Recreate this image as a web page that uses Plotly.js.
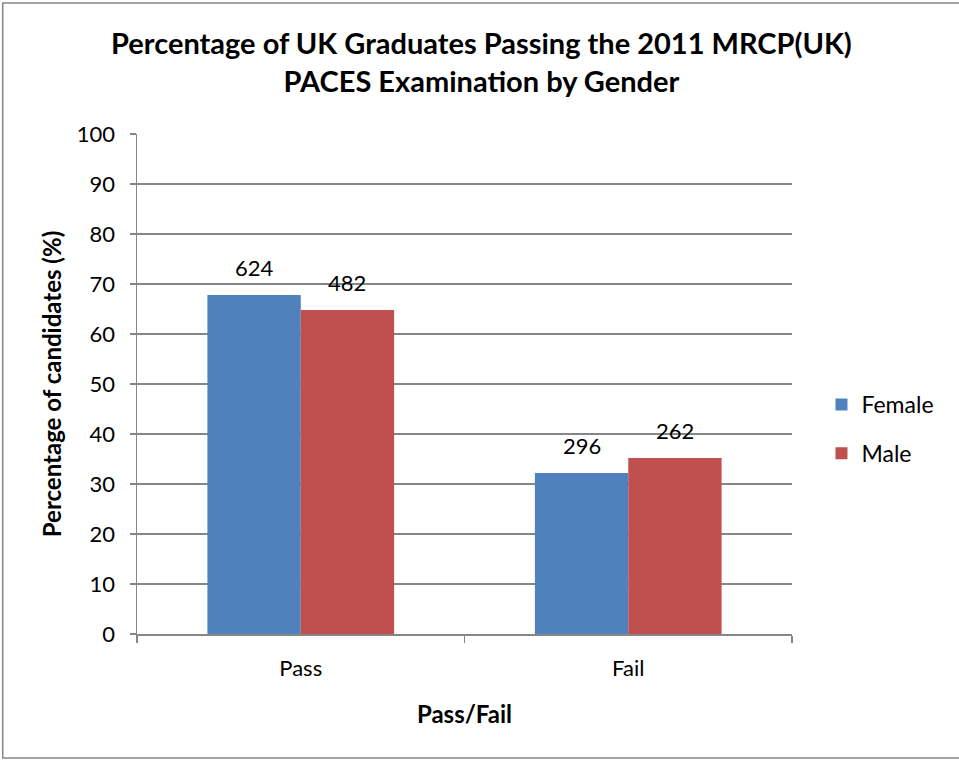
<!DOCTYPE html>
<html>
<head>
<meta charset="utf-8">
<script src="https://cdn.plot.ly/plotly-3.0.1.min.js"></script>
<style>html,body{margin:0;padding:0;background:#fff;}#chart{width:959px;height:760px;}</style>
</head>
<body>
<div id="chart"></div>
<script>
const categories = ["Pass", "Fail"];
const femalePct = [67.8, 32.2];
const malePct = [64.8, 35.2];
const femaleCounts = ["624", "296"];
const maleCounts = ["482", "262"];
const yTicks = [0, 10, 20, 30, 40, 50, 60, 70, 80, 90, 100];

const FONT = "Lato, 'Open Sans', sans-serif";
const labelFont = {family: FONT, size: 22, color: "#000"};

const traces = [
  {type: "bar", name: "Female", x: categories, y: femalePct, legendgroup: "f",
   marker: {color: "#4F81BD"}, hoverinfo: "none", offsetgroup: "f"},
  {type: "bar", name: "Male", x: categories, y: malePct, legendgroup: "m",
   marker: {color: "#C0504D"}, hoverinfo: "none", offsetgroup: "m"}
];

// data labels (counts) placed above each bar via the axis scales
const annotations = [];
const bargap = 0.43;
const half = (1 - bargap) / 4;
categories.forEach((c, i) => {
  annotations.push({x: i - half, y: femalePct[i], xref: "x", yref: "y", text: femaleCounts[i],
    showarrow: false, yanchor: "bottom", yshift: 12, font: labelFont});
  annotations.push({x: i + half, y: malePct[i], xref: "x", yref: "y", text: maleCounts[i],
    showarrow: false, yanchor: "bottom", yshift: 12, font: labelFont});
});

const layout = {
  width: 959, height: 760,
  margin: {l: 137, r: 167, t: 134, b: 126},
  paper_bgcolor: "#fff", plot_bgcolor: "#fff",
  font: {family: FONT, color: "#000"},
  barmode: "group", bargap: bargap, bargroupgap: 0,
  title: {text: "<b>Percentage of UK Graduates Passing the 2011 MRCP(UK)<br>PACES Examination by Gender</b>",
          font: {family: FONT, size: 29, color: "#000"}, x: 0.502, xref: "container", xanchor: "center",
          y: 0.929, yanchor: "middle", yref: "container"},
  xaxis: {
    title: {text: "<b>Pass/Fail</b>", font: {family: FONT, size: 24}, standoff: 26},
    tickfont: labelFont, showline: true, linecolor: "#868686", linewidth: 1.5,
    ticks: "outside", tickson: "boundaries", ticklen: 7, tickcolor: "#868686", tickwidth: 1.5,
    showgrid: false, zeroline: false, ticklabelstandoff: 14
  },
  yaxis: {
    title: {text: "<b>Percentage of candidates (%)</b>", font: {family: FONT, size: 24}, standoff: 8},
    range: [0, 100], tickvals: yTicks, ticktext: yTicks.map(String), tickfont: labelFont,
    showline: true, linecolor: "#868686", linewidth: 1.5,
    ticks: "outside", ticklen: 6, tickcolor: "#868686", tickwidth: 1.5,
    showgrid: true, gridcolor: "#868686", gridwidth: 1.5, zeroline: false, ticklabelstandoff: 10
  },
  legend: {x: 1.045, y: 0.41, xanchor: "left", yanchor: "middle", font: {family: FONT, size: 23, color: "#000"},
           tracegroupgap: 16, itemwidth: 30, bgcolor: "rgba(0,0,0,0)"},
  annotations: annotations,
  shapes: [{type: "rect", xref: "paper", yref: "paper", x0: -0.205, x1: 1.27, y0: -0.248, y1: 1.262,
            line: {color: "#868686", width: 1.5}, fillcolor: "rgba(0,0,0,0)", layer: "below"}]
};

Plotly.newPlot("chart", traces, layout, {displayModeBar: false, staticPlot: true});
</script>
</body>
</html>
